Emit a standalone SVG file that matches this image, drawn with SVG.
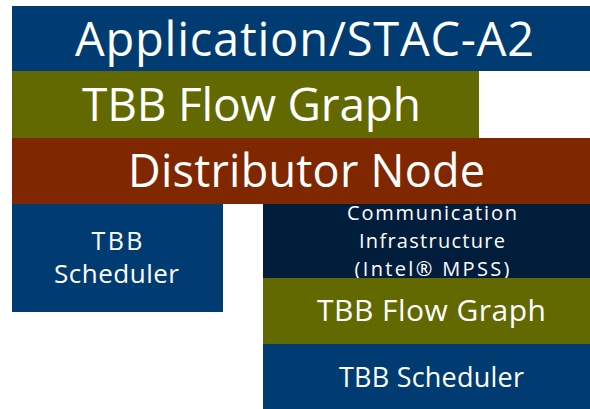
<svg xmlns="http://www.w3.org/2000/svg" width="590" height="409" viewBox="0 0 590 409">
<style>
text{font-family:"Open Sans","Noto Sans","DejaVu Sans",sans-serif;fill:#ffffff;text-anchor:middle}
.blue{fill:#003C71}
.green{fill:#626900}
.red{fill:#7F2800}
.navy{fill:#001E3C}
</style>
<rect width="590" height="409" fill="#ffffff"/>
<g id="app"><rect class="blue" x="12" y="6" width="578" height="65"/><text x="304.5" y="56" font-size="47" textLength="459" lengthAdjust="spacing">Application/STAC-A2</text></g>
<g id="flowgraph1"><rect class="green" x="12" y="71" width="467" height="67"/><text x="251.5" y="121" font-size="46" textLength="339" lengthAdjust="spacing">TBB Flow Graph</text></g>
<g id="distributor"><rect class="red" x="12" y="138" width="578" height="66"/><text x="306.5" y="187" font-size="45" textLength="357" lengthAdjust="spacing">Distributor Node</text></g>
<g id="scheduler1"><rect class="blue" x="12" y="204" width="211" height="108"/><text x="117" y="250" font-size="25" textLength="51" lengthAdjust="spacing">TBB</text><text x="116.5" y="283" font-size="26" textLength="125" lengthAdjust="spacing">Scheduler</text></g>
<g id="comm"><rect class="navy" x="263" y="204" width="327" height="74"/><text x="432" y="220" font-size="20" textLength="170" lengthAdjust="spacing">Communication</text><text x="432" y="248" font-size="20" textLength="146" lengthAdjust="spacing">Infrastructure</text><text x="432" y="275.5" font-size="20" textLength="155" lengthAdjust="spacing">(Intel® MPSS)</text></g>
<g id="flowgraph2"><rect class="green" x="263" y="278" width="327" height="66"/><text x="431.5" y="321" font-size="30" textLength="229" lengthAdjust="spacing">TBB Flow Graph</text></g>
<g id="scheduler2"><rect class="blue" x="263" y="344" width="327" height="65"/><text x="431.5" y="387" font-size="27" textLength="185" lengthAdjust="spacing">TBB Scheduler</text></g>
<g id="connectors"/>
</svg>
